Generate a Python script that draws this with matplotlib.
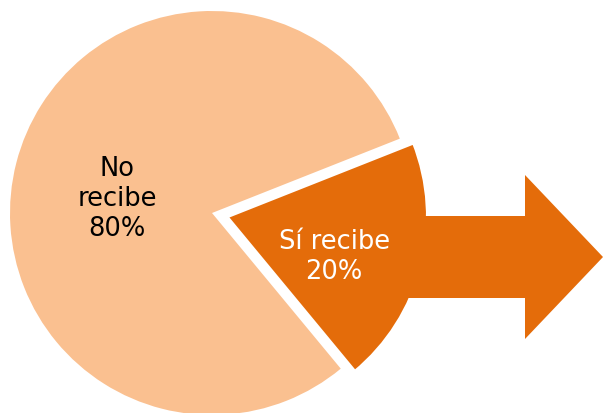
import matplotlib.pyplot as plt
from matplotlib.patches import Polygon
import numpy as np

# Data
labels = ['No\nrecibe', 'Sí recibe']
values = [80, 20]
colors = ['#FAC090', '#E46C0A']
text_colors = ['black', 'white']

fig = plt.figure(figsize=(6.03, 4.14), dpi=100)
ax = fig.add_axes([0, 0, 1, 1])

center = (212, 200)
radius = 202
explode = [0, 14.5]  # pie explode is in data units here

wedges, _ = ax.pie(values, colors=colors, startangle=21.6, counterclock=True,
                   explode=explode, center=center, radius=radius, frame=True)
ax.set_xlim(0, 603)
ax.set_ylim(0, 414)
ax.set_aspect('equal')
ax.axis('off')

wedges[0].set_linewidth(0)
wedges[1].set_edgecolor('white')
wedges[1].set_linewidth(3)
wedges[1].set_joinstyle('miter')

# arrow coming out of the exploded slice
body_x0, head_x0, tip_x = 400, 525, 603
mid_y, body_h, head_h = 156, 41, 82
arrow = Polygon([(body_x0, mid_y + body_h), (head_x0, mid_y + body_h),
                 (head_x0, mid_y + head_h), (tip_x, mid_y),
                 (head_x0, mid_y - head_h), (head_x0, mid_y - body_h),
                 (body_x0, mid_y - body_h)],
                closed=True, facecolor=colors[1], edgecolor='none', zorder=3)
ax.add_patch(arrow)

# labels
label_pos = [(0.475, 171), (0.57, -20)]
for w, lab, val, tc, (fr, ang) in zip(wedges, labels, values, text_colors, label_pos):
    cx, cy = w.center
    x = cx + fr * radius * np.cos(np.radians(ang))
    y = cy + fr * radius * np.sin(np.radians(ang))
    ax.text(x, y, f'{lab}\n{val}%', ha='center', va='center', color=tc,
            fontsize=18.5, linespacing=1.2, zorder=5, family='DejaVu Sans')

fig.savefig('out.png', dpi=100)
